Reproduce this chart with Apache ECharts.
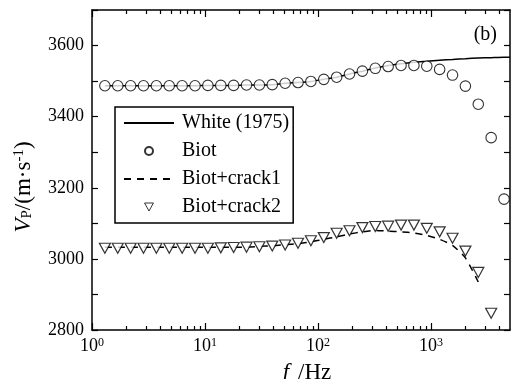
<!DOCTYPE html>
<html><head><meta charset="utf-8">
<script src="https://cdn.jsdelivr.net/npm/echarts@6/dist/echarts.min.js"></script>
<style>html,body{margin:0;padding:0;background:#fff}#c{width:515px;height:379px}</style>
</head><body><div id="c"></div>
<script>
// ---- data ----
const freq = [1.3, 1.69, 2.197, 2.856, 3.713, 4.827, 6.275, 8.157, 10.60, 13.79,
  17.92, 23.30, 30.29, 39.37, 51.19, 66.54, 86.50, 112.5, 146.2, 190.0,
  247.0, 321.2, 417.5, 542.8, 705.6, 917.3, 1192, 1550, 2015, 2620, 3406, 4428];
const whiteFreq = [1.3, 1.69, 2.197, 2.856, 3.713, 4.827, 6.275, 8.157, 10.60, 13.79,
  17.92, 23.30, 30.29, 39.37, 51.19, 66.54, 86.50, 112.5, 146.2, 190.0,
  247.0, 321.2, 417.5, 542.8, 705.6, 917.3, 1192, 1550, 2015, 2620, 3406, 4428, 5000];
const whiteV = [3487, 3487, 3487, 3487, 3487, 3487, 3487, 3487, 3488, 3488,
  3488, 3489, 3489, 3490, 3494, 3496, 3499, 3505, 3511, 3520,
  3528, 3537, 3544, 3549, 3553, 3556, 3559, 3561, 3563, 3565, 3566, 3567, 3567];
const biotV = [3487, 3487, 3487, 3487, 3487, 3487, 3487, 3487, 3488, 3488,
  3488, 3489, 3489, 3490, 3494, 3496, 3499, 3505, 3511, 3520,
  3528, 3536, 3541, 3544, 3544, 3542, 3533, 3517, 3486, 3435, 3341, 3168];
const crack1V = [3033, 3033, 3033, 3033, 3033, 3033, 3033, 3033, 3033, 3033,
  3033, 3033, 3035, 3037, 3040, 3043, 3048, 3055, 3062, 3070,
  3076, 3080, 3078, 3076, 3073, 3066, 3055, 3038, 3003, 2935];
const crack2V = [3030, 3030, 3030, 3030, 3030, 3030, 3030, 3030, 3030, 3031,
  3032, 3033, 3034, 3036, 3039, 3044, 3051, 3060, 3072, 3079,
  3088, 3091, 3092, 3095, 3095, 3086, 3076, 3058, 3022, 2962, 2847];
const majorX = [1, 10, 100, 1000];
const minorX = [2, 3, 4, 5, 6, 7, 8, 9, 20, 30, 40, 50, 60, 70, 80, 90,
  200, 300, 400, 500, 600, 700, 800, 900, 2000, 3000, 4000];
const seriesNames = ['White (1975)', 'Biot', 'Biot+crack1', 'Biot+crack2'];

// ---- chart ----
const FONT = 'Liberation Serif';
const pair = (xs, ys) => ys.map((v, i) => [xs[i], v]);
const chart = echarts.init(document.getElementById('c'), null, {renderer: 'canvas'});

function xAxisDef(pos, ticks, len, showLine, showLabel) {
  return {
    type: 'log', logBase: 10, min: 1, max: 5000, position: pos,
    axisLine: {show: showLine, onZero: false, lineStyle: {color: '#000', width: 1.5}},
    axisTick: {show: true, inside: true, length: len, customValues: ticks,
      lineStyle: {color: '#000', width: 1.2}},
    axisLabel: showLabel ? {
      show: true, customValues: majorX, margin: 7, color: '#000',
      fontFamily: FONT, fontSize: 18,
      formatter: v => '{b|10}{s|' + Math.round(Math.log10(v)) + '}',
      rich: {b: {fontFamily: FONT, fontSize: 18, color: '#000'},
             s: {fontFamily: FONT, fontSize: 12, color: '#000', verticalAlign: 'top', lineHeight: 12}}
    } : {show: false},
    splitLine: {show: false}, minorTick: {show: false}
  };
}
function yAxisDef(pos, showLabel) {
  const ax = {
    type: 'value', min: 2800, max: 3700, interval: 100, position: pos,
    axisLine: {show: true, onZero: false, lineStyle: {color: '#000', width: 1.5}},
    axisTick: {show: true, inside: true, length: 6, lineStyle: {color: '#000', width: 1.2}},
    axisLabel: showLabel ? {
      show: true, margin: 8, color: '#000', fontFamily: FONT, fontSize: 18,
      formatter: v => (v % 200 === 0 && v < 3700) ? '{t|' + v + '}' : '',
      rich: {t: {fontFamily: FONT, fontSize: 18, color: '#000'}}
    } : {show: false},
    splitLine: {show: false}
  };
  if (showLabel) {
    ax.name = '{i|V}{sub|P}{n|/(m·s}{sup|-1}{n|)}';
    ax.nameLocation = 'middle';
    ax.nameRotate = 90;
    ax.nameGap = 57;
    ax.nameTextStyle = {
      fontFamily: FONT,
      padding: [0, 34, 0, 0],
      rich: {
        i: {fontFamily: FONT, fontStyle: 'italic', fontSize: 23, color: '#000'},
        sub: {fontFamily: FONT, fontSize: 15, color: '#000', verticalAlign: 'bottom', lineHeight: 12},
        n: {fontFamily: FONT, fontSize: 23, color: '#000'},
        sup: {fontFamily: FONT, fontSize: 15, color: '#000', verticalAlign: 'top', lineHeight: 12}
      }
    };
  }
  return ax;
}

const xAxes = [
  xAxisDef('bottom', majorX, 7, true, true),
  xAxisDef('bottom', minorX, 4, false, false),
  xAxisDef('top', majorX, 7, true, false),
  xAxisDef('top', minorX, 4, false, false)
];
xAxes[0].name = '{i|f}{g|}{n|/Hz}';
xAxes[0].nameLocation = 'middle';
xAxes[0].nameGap = 31;
xAxes[0].nameTextStyle = {fontFamily: FONT, padding: [0, 0, 0, 12], rich: {
  i: {fontFamily: FONT, fontStyle: 'italic', fontSize: 23, color: '#000'},
  g: {width: 9},
  n: {fontFamily: FONT, fontSize: 23, color: '#000'}}};

const option = {
  backgroundColor: '#fff',
  animation: false,
  textStyle: {fontFamily: FONT, color: '#000'},
  grid: {left: 92, right: 5, top: 10, bottom: 49, containLabel: false, outerBoundsMode: 'none'},
  title: {text: '(b)', right: 13, top: 20,
    textStyle: {fontFamily: FONT, fontSize: 20, fontWeight: 'normal', color: '#000'}},
  legend: {
    orient: 'vertical', left: 115, top: 107,
    data: [
      {name: seriesNames[0], itemStyle: {opacity: 0}},
      {name: seriesNames[1]},
      {name: seriesNames[2], itemStyle: {opacity: 0}},
      {name: seriesNames[3], icon: 'path://M0,0L10,0L5,9Z', itemStyle: {color: '#fff', borderColor: '#000', borderWidth: 1}}
    ],
    symbolKeepAspect: true,
    padding: [6, 4, 6, 8],
    itemWidth: 50, itemHeight: 8, itemGap: 8,
    borderColor: '#000', borderWidth: 1.5, borderRadius: 0,
    backgroundColor: '#fff',
    textStyle: {fontFamily: FONT, fontSize: 20, lineHeight: 20, color: '#000', padding: [0, 0, 0, 3]}
  },
  xAxis: xAxes,
  yAxis: [yAxisDef('left', true), yAxisDef('right', false)],
  series: [
    {name: seriesNames[0], type: 'line', data: pair(whiteFreq, whiteV), showSymbol: false,
      symbol: 'none', smooth: 0.2, lineStyle: {color: '#000', width: 1.5}, itemStyle: {color: '#000'}, z: 2},
    {name: seriesNames[1], type: 'scatter', data: pair(freq, biotV), symbol: 'circle', symbolSize: 10.5,
      itemStyle: {color: '#fff', borderColor: '#000', borderWidth: 1.1}, z: 4},
    {name: seriesNames[2], type: 'line', data: pair(freq, crack1V), showSymbol: false, symbol: 'none',
      smooth: 0.2, lineStyle: {color: '#000', width: 1.5, type: [7, 6]}, itemStyle: {color: '#000'}, z: 2},
    {name: seriesNames[3], type: 'scatter', data: pair(freq, crack2V), symbol: 'triangle', symbolRotate: 180,
      symbolSize: [11, 10], itemStyle: {color: '#fff', borderColor: '#000', borderWidth: 1.2}, z: 4}
  ]
};
chart.setOption(option);
</script>
</body></html>
